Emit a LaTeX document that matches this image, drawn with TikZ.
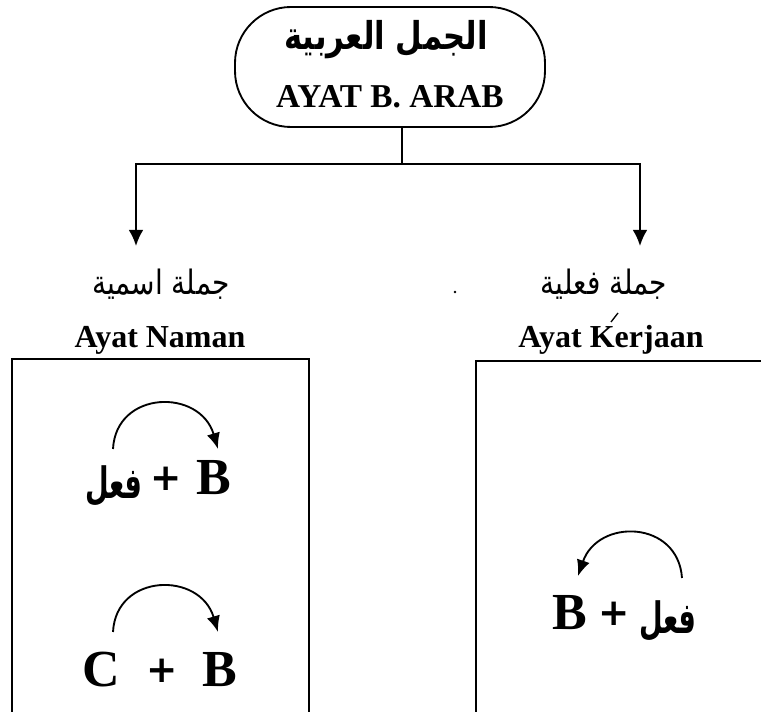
\documentclass[tikz,border=0pt]{standalone}
\usepackage{fontspec}
\setmainfont{Liberation Serif}
\newfontfamily\arabicfont[Script=Arabic]{DejaVu Sans}
\newfontfamily\plusfont{DejaVu Sans}
\TeXXeTstate=1
\usetikzlibrary{arrows.meta}
\begin{document}
\begin{tikzpicture}[x=0.75pt,y=-0.75pt,line width=1.4pt,
  arbig/.style={font=\arabicfont\bfseries\fontsize{23}{27}\selectfont,inner sep=0pt},
  armid/.style={font=\arabicfont\fontsize{21}{25}\selectfont,inner sep=0pt},
  arbold/.style={font=\arabicfont\bfseries\fontsize{24}{28}\selectfont,inner sep=0pt},
  lat/.style={font=\bfseries\fontsize{24}{28}\selectfont,inner sep=0pt},
  big/.style={font=\bfseries\fontsize{39}{44}\selectfont,inner sep=0pt},
  plus/.style={font=\plusfont\bfseries\fontsize{28}{32}\selectfont,inner sep=0pt},
  bigtip/.style={-{Latex[length=12pt,width=11pt]}},
  curvetip/.style={-{Latex[length=12pt,width=10pt]}},
  boxline/.style={line width=1.3pt}]
\useasboundingbox (0,0) rectangle (761,712);
% top pill
\node[draw,rounded corners=42pt,minimum width=232.5pt,minimum height=90pt] (top) at (390,67) {};
\node[arbig] (title) at (386,40) {\scalebox{1}[1.25]{\beginR الجمل العربية\endR}};
\node[lat,font=\bfseries\fontsize{25}{29}\selectfont] (titlelat) at (390,97) {AYAT B. ARAB};
% connectors
\coordinate (tb) at (402,127);
\coordinate (j) at (402,164);
\coordinate (al) at (136,246);
\coordinate (ar) at (640,246);
\draw (tb) -- (j);
\draw[bigtip] (j) -| (al);
\draw[bigtip] (j) -| (ar);
% labels
\node[armid] (ism) at (161,284) {\scalebox{1}[1.2]{\beginR جملة اسمية\endR}};
\node[lat] (naman) at (160,340) {Ayat Naman};
\node[armid] (fil) at (604,284) {\scalebox{1}[1.2]{\beginR جملة فعلية\endR}};
\node[lat] (kerja) at (611,340) {Ayat Kerjaan};
\draw[line width=1pt] (611,322) -- (618,313);
\fill (455,292) circle (1pt);
% boxes
\draw[boxline] (12,712) |- (309,359) -- (309,712);
\draw[boxline] (476,712) |- (761,361);
% left box row 1
\node[arbold] (f1) at (114,486) {\scalebox{0.85}[1.35]{\beginR فعل\endR}};
\node[plus] (p1) at (166,479) {+};
\node[big] (b1) at (214,478) {B};
\coordinate (s1) at (113,449);
\coordinate (e1) at (218,449);
\draw[curvetip] (s1) .. controls (116,390) and (200,388) .. (e1);
% left box row 2
\node[big] (c2) at (101,670) {C};
\node[plus] (p2) at (162,671) {+};
\node[big] (b2) at (220,670) {B};
\coordinate (s2) at (113,632);
\coordinate (e2) at (218,632);
\draw[curvetip] (s2) .. controls (116,573) and (200,571) .. (e2);
% right box
\node[big] (b3) at (570,613) {B};
\node[plus] (p3) at (614,614) {+};
\node[arbold] (f3) at (668,621) {\scalebox{0.85}[1.35]{\beginR فعل\endR}};
\coordinate (s3) at (682,578);
\coordinate (e3) at (578,576);
\draw[curvetip] (s3) .. controls (678,520) and (598,518) .. (e3);
\end{tikzpicture}
\end{document}
